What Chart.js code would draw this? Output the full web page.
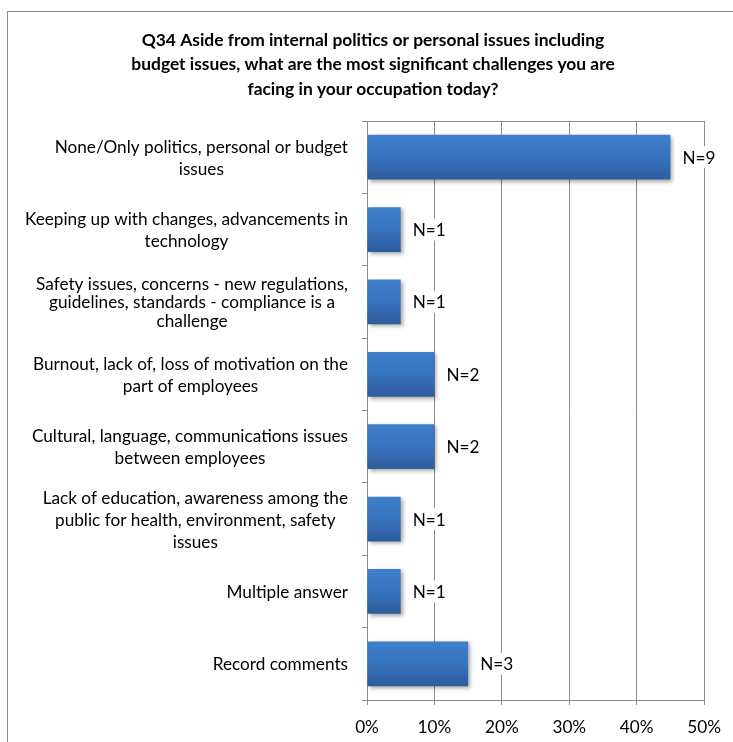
<!DOCTYPE html>
<html>
<head>
<meta charset="utf-8">
<script src="https://cdn.jsdelivr.net/npm/chart.js@4/dist/chart.umd.min.js"></script>
<style>
html,body{margin:0;padding:0;background:#fff;}
#wrap{width:733px;height:742px;position:relative;}
</style>
</head>
<body>
<div id="wrap"><canvas id="c" width="733" height="742"></canvas></div>
<script>
const titleLines = [
  "Q34 Aside from internal politics or personal issues including",
  "budget issues, what are the most significant challenges you are",
  "facing in your occupation today?"
];
const categories = [
  ["None/Only politics, personal or budget", "issues"],
  ["Keeping up with changes, advancements in", "technology"],
  ["Safety issues, concerns - new regulations,", "guidelines, standards - compliance is a", "challenge"],
  ["Burnout, lack of, loss of motivation on the", "part of employees"],
  ["Cultural, language, communications issues", "between employees"],
  ["Lack of education, awareness among the", "public for health, environment, safety", "issues"],
  ["Multiple answer"],
  ["Record comments"]
];
const percentValues = [45, 5, 5, 10, 10, 5, 5, 15];
const counts = [9, 1, 1, 2, 2, 1, 1, 3];
const xTicks = [0, 10, 20, 30, 40, 50];

const FONT = "Lato, 'Open Sans', sans-serif";
const LABEL_SIZE = 17.2;
const BAR_PCT = 0.62;
function lineHeightFor(i) { return i === 2 ? 18.5 : 22; }

function barGradient(ctx) {
  const chart = ctx.chart;
  const ys = chart.scales && chart.scales.y;
  if (!chart.chartArea || !ys || ctx.dataIndex === undefined) return '#3a75c0';
  const c = ys.getPixelForValue(ctx.dataIndex);
  const band = (chart.chartArea.bottom - chart.chartArea.top) / categories.length;
  const h = band * BAR_PCT;
  const g = chart.ctx.createLinearGradient(0, c - h / 2, 0, c + h / 2);
  g.addColorStop(0, '#3e7fcd');
  g.addColorStop(0.5, '#3873be');
  g.addColorStop(1, '#2c5c9b');
  return g;
}

const framePlugin = {
  id: 'frame',
  beforeDraw(chart) {
    const ctx = chart.ctx;
    ctx.save();
    ctx.fillStyle = '#fff';
    ctx.fillRect(0, 0, chart.width, chart.height);
    ctx.strokeStyle = '#8c8c8c';
    ctx.lineWidth = 1;
    ctx.strokeRect(7.5, 11.5, chart.width + 10, chart.height + 10);
    // title
    ctx.fillStyle = '#000';
    ctx.font = 'bold 17.4px ' + FONT;
    ctx.textAlign = 'center';
    ctx.textBaseline = 'middle';
    titleLines.forEach((l, k) => ctx.fillText(l, 373, 40 + k * 24.5));
    ctx.restore();
  },
  beforeDatasetsDraw(chart) {
    const ctx = chart.ctx;
    ctx.save();
    ctx.shadowColor = 'rgba(0,0,0,0.35)';
    ctx.shadowBlur = 4;
    ctx.shadowOffsetX = 2;
    ctx.shadowOffsetY = 2;
  },
  afterDatasetsDraw(chart) {
    const ctx = chart.ctx;
    ctx.restore();
    const a = chart.chartArea;
    ctx.save();
    // top border of plot area
    ctx.strokeStyle = '#8c8c8c';
    ctx.lineWidth = 1;
    ctx.beginPath();
    ctx.moveTo(a.left, Math.round(a.top) + 0.5);
    ctx.lineTo(a.right, Math.round(a.top) + 0.5);
    ctx.stroke();
    // data labels with white box
    ctx.font = LABEL_SIZE + 'px ' + FONT;
    ctx.textAlign = 'left';
    ctx.textBaseline = 'middle';
    const meta = chart.getDatasetMeta(0);
    meta.data.forEach((bar, i) => {
      const t = 'N=' + counts[i];
      const w = ctx.measureText(t).width;
      ctx.fillStyle = '#fff';
      ctx.fillRect(bar.x + 9, bar.y - 11, w + 6, 22);
      ctx.fillStyle = '#000';
      ctx.fillText(t, bar.x + 12, bar.y + 1);
    });
    // category labels: block right-aligned, lines centered
    const ys = chart.scales.y;
    const rightEdge = a.left - 19;
    ctx.textAlign = 'center';
    categories.forEach((lines, i) => {
      const cy = ys.getPixelForValue(i);
      const lh = lineHeightFor(i);
      const w = Math.max(...lines.map(l => ctx.measureText(l).width));
      const cx = rightEdge - w / 2;
      const top = cy - (lines.length - 1) * lh / 2;
      lines.forEach((l, k) => ctx.fillText(l, cx, top + k * lh + 1));
    });
    ctx.restore();
  }
};

new Chart(document.getElementById('c'), {
  type: 'bar',
  data: {
    labels: categories,
    datasets: [{
      data: percentValues,
      backgroundColor: barGradient,
      borderWidth: 0,
      barPercentage: BAR_PCT,
      categoryPercentage: 1
    }]
  },
  plugins: [framePlugin],
  options: {
    indexAxis: 'y',
    responsive: false,
    animation: false,
    devicePixelRatio: 1,
    layout: { padding: { left: 0, right: 27, top: 121, bottom: 0 } },
    plugins: {
      legend: { display: false },
      tooltip: { enabled: false },
      title: { display: false }
    },
    scales: {
      x: {
        min: 0, max: 50,
        afterBuildTicks(scale) { scale.ticks = xTicks.map(v => ({ value: v })); },
        afterFit(scale) { scale.height = 42; },
        grid: { color: '#8c8c8c', lineWidth: 1, tickLength: 5, drawTicks: true },
        border: { color: '#8c8c8c' },
        ticks: {
          color: '#000',
          font: { family: FONT, size: LABEL_SIZE },
          padding: 12,
          callback: v => v + '%'
        }
      },
      y: {
        afterFit(scale) { scale.width = 367; },
        grid: { drawOnChartArea: false, offset: true, tickLength: 5, color: '#8c8c8c' },
        border: { color: '#8c8c8c' },
        ticks: { color: 'rgba(0,0,0,0)', font: { family: FONT, size: 10 } }
      }
    }
  }
});
</script>
</body>
</html>
